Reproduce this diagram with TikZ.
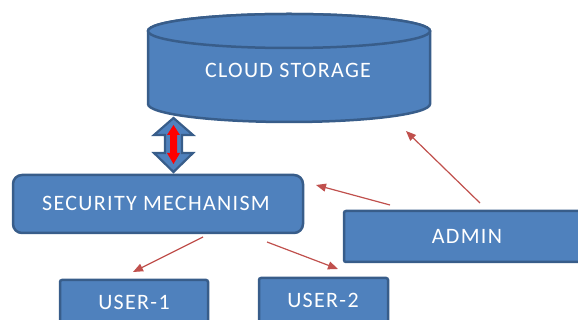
\documentclass[tikz,border=0pt]{standalone}
\usepackage{fontspec}
\setmainfont{Carlito}
\usetikzlibrary{arrows.meta}
\definecolor{boxfill}{HTML}{4F81BD}
\definecolor{boxline}{HTML}{385D8A}
\definecolor{arrred}{HTML}{C0504D}
\tikzset{
  shapeline/.style={draw=boxline, fill=boxfill, line width=2.5pt},
  boxtxt/.style={text=white, font=\fontsize{22}{25}\selectfont\addfontfeature{LetterSpace=6}},
  rarrow/.style={draw=arrred, line width=1.2pt, -{Triangle[length=10pt,width=8pt]}}
}
\begin{document}
\begin{tikzpicture}[x=1pt,y=-1pt]
\useasboundingbox (0,0) rectangle (578,320);
% cylinder
\path[shapeline] (148,31) -- (148,104) arc[start angle=180,end angle=0,x radius=141,y radius=18] -- (430,31) arc[start angle=0,end angle=-180,x radius=141,y radius=17] -- cycle;
\draw[shapeline] (289,31) ellipse[x radius=141,y radius=17];
\node[boxtxt] (cloud) at (288,70) {CLOUD STORAGE};
% double arrow
\path[shapeline, line width=2.2pt, line join=miter] (173.5,118) -- (193,135) -- (182,135) -- (182,153) -- (193,153) -- (173.5,172) -- (154,153) -- (165,153) -- (165,135) -- (154,135) -- cycle;
\fill[red] (173.5,125) -- (180,135) -- (177,135) -- (177,153) -- (180,153) -- (173.5,164) -- (167,153) -- (170,153) -- (170,135) -- (167,135) -- cycle;
% boxes
\draw[shapeline, rounded corners=9pt] (13,175) rectangle (303,233);
\node[boxtxt] (sec) at (156,203) {SECURITY MECHANISM};
\draw[shapeline, rounded corners=2pt] (344,211) rectangle (590,262);
\node[boxtxt] (admin) at (467,236) {ADMIN};
\draw[shapeline, rounded corners=2pt] (60,280) rectangle (208,330);
\node[boxtxt] (user1) at (134,302) {USER-1};
\draw[shapeline, rounded corners=2pt] (259,278) rectangle (388,330);
\node[boxtxt] (user2) at (323,300) {USER-2};
% arrow end points
\coordinate (a1s) at (480,203);
\coordinate (a1e) at (406,131);
\coordinate (a2s) at (390,205);
\coordinate (a2e) at (316,185);
\coordinate (a3s) at (203,237);
\coordinate (a3e) at (133,272);
\coordinate (a4s) at (267,242);
\coordinate (a4e) at (338,269);
\draw[rarrow] (a1s) -- (a1e);
\draw[rarrow] (a2s) -- (a2e);
\draw[rarrow] (a3s) -- (a3e);
\draw[rarrow] (a4s) -- (a4e);
\end{tikzpicture}
\end{document}
